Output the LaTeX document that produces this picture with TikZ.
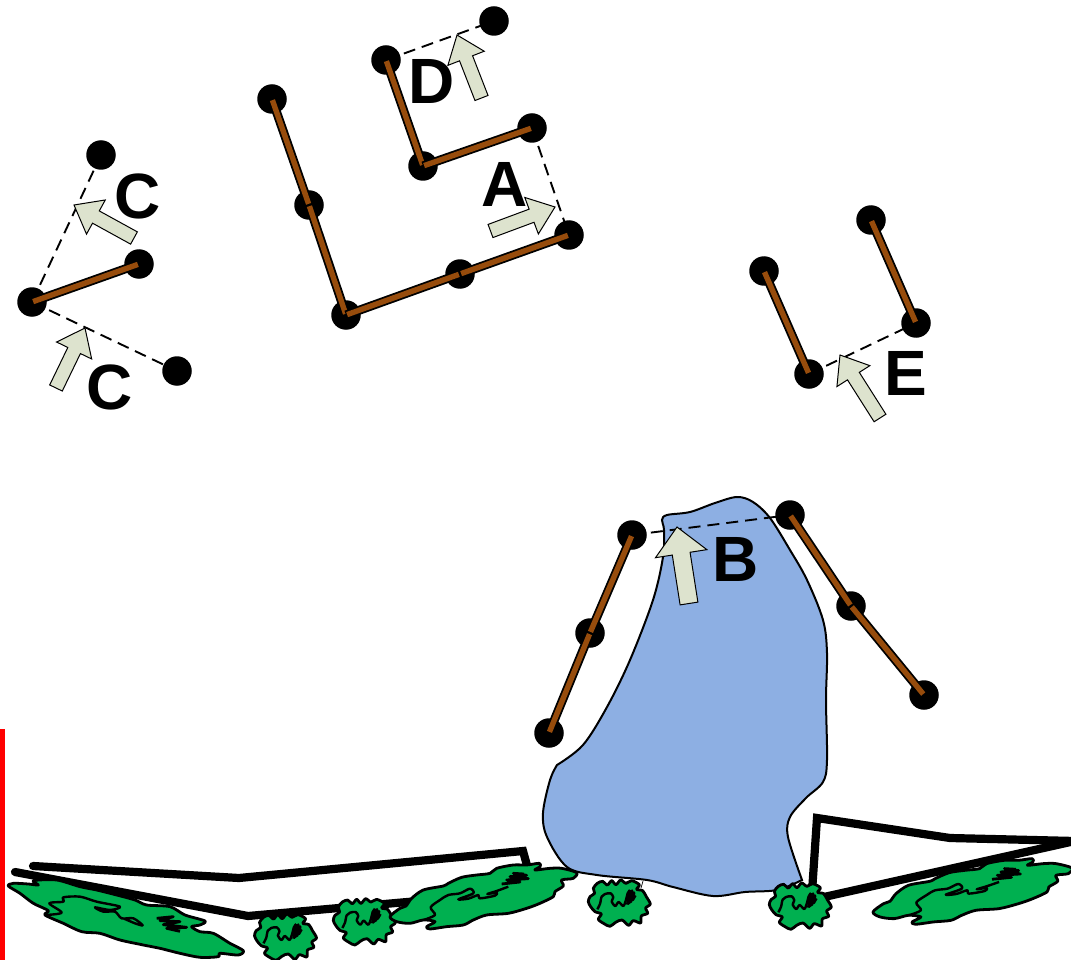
\documentclass[tikz,border=0pt]{standalone}
\usepackage{fontspec}
\setmainfont{Liberation Sans}
\usetikzlibrary{calc}
\definecolor{barbrown}{HTML}{974C0C}
\definecolor{bushgreen}{HTML}{00B050}
\definecolor{poolblue}{HTML}{8DAFE3}
\definecolor{arrowfill}{HTML}{DDE3CE}
\tikzset{
  dot/.style={circle,fill=black,inner sep=0pt,minimum size=29.5pt},
  barout/.style={line width=9pt,draw=black},
  barin/.style={line width=5.4pt,draw=barbrown,shorten >=1.2pt,shorten <=1.2pt},
  dashline/.style={line width=1.9pt,dash pattern=on 12pt off 7pt},
  heavy/.style={line width=8.2pt,line join=miter,line cap=round},
  lab/.style={font=\fontsize{64pt}{64pt}\selectfont\bfseries,inner sep=0pt},
  bushline/.style={line width=2.8pt,fill=bushgreen,draw=black,line join=round},
  squig/.style={line width=2.4pt,draw=black,line join=round},
  scrib/.style={line width=2.8pt,draw=black,line join=round},
  blockar/.style={fill=arrowfill,draw=black,line width=1pt,line join=miter}
}
\newcommand{\linkbar}[2]{\draw[barout] (#1.center) -- (#2.center);\draw[barin] (#1.center) -- (#2.center);}
\newcommand{\blockarrow}[6]{% name, tip, tail, head length, half head, half shaft
  \coordinate (#1tip) at (#2);
  \coordinate (#1tail) at (#3);
  \coordinate (#1h) at ($(#1tip)!#4pt!(#1tail)$);
  \draw[blockar] (#1tip) -- ($(#1h)!#5pt!90:(#1tip)$) -- ($(#1h)!#6pt!90:(#1tip)$) -- ($(#1tail)!#6pt!90:(#1tip)$) -- ($(#1tail)!#6pt!-90:(#1tip)$) -- ($(#1h)!#6pt!-90:(#1tip)$) -- ($(#1h)!#5pt!-90:(#1tip)$) -- cycle;
}
\newcommand{\smallbush}[2]{%
  \begin{scope}[shift={(380+#1,780+#2)},scale=0.3333]
  \draw[bushline] plot[smooth cycle,tension=.5] coordinates {
   (625,365)(630,350)(644,340)(640,325)(652,310)(668,304)(682,315)(695,302)(708,314)(722,300)(738,310)(755,302)(778,314)(770,328)(788,332)(799,350)(811,372)(797,384)(803,400)(784,408)(782,429)(760,422)(746,436)(726,420)(707,427)(690,439)(672,431)(655,418)(664,402)(645,395)(632,380)};
  \draw[squig] plot[smooth,tension=.5] coordinates {(652,388)(660,372)(665,350)(675,342)(692,340)(700,352)(695,365)(706,378)(716,366)(730,378)(738,360)(743,340)(750,330)};
  \draw[scrib] (742,374) -- (750,334) -- (746,370) -- (756,332) -- (752,366) -- (762,338) -- (758,360) -- (766,346);
  \end{scope}}
\newcommand{\largebushup}{%
  \draw[bushline] plot[smooth cycle,tension=.5] coordinates {
   (30,410)(60,385)(78,378)(95,355)(130,330)(190,318)(205,310)(245,292)(290,285)(330,280)(350,265)(400,255)(440,255)(478,250)(480,260)(465,270)(510,265)(545,265)(590,278)(580,295)(545,300)(550,318)(525,335)(520,350)(480,370)(440,385)(385,400)(320,405)(280,420)(250,435)(200,440)(150,447)(140,440)(165,425)(130,420)(90,430)(50,425)};
  \draw[squig] plot[smooth,tension=.5] coordinates {(130,420)(165,405)(152,382)(180,360)(205,345)(240,340)(270,326)(280,340)(235,358)(265,356)(295,345)(300,355)(345,347)(350,338)(322,342)(350,333)(385,320)};
  \draw[scrib] (365,312) -- (420,306) -- (380,300) -- (445,296) -- (390,290) -- (440,286) -- (400,280) -- (432,282);
}
\begin{document}
\begin{tikzpicture}[x=1pt,y=-1pt]
\useasboundingbox (0,0) rectangle (1071,960);
% red edge
\fill[red] (0,729) rectangle (5,960);
% dots
\foreach \n/\x/\y in {aa/272/99,ab/309/205,ac/346/315,ad/460/274,ae/569/235,
  da/386/60,db/423/166,dc/532/128,dd/494/21,
  ca/32/302,cb/139/264,cc/101/155,cd/177/371,
  ea/764/271,eb/809/374,ec/871/220,ed/916/323}
  \node[dot] (\n) at (\x,\y) {};
% dashed
\draw[dashline] (ca.center) -- (cc.center);
\draw[dashline] (ca.center) -- (cd.center);
\draw[dashline] (dc.center) -- (ae.center);
\draw[dashline] (da.center) -- (dd.center);
\draw[dashline] (eb.center) -- (ed.center);
% bars
\linkbar{aa}{ab}\linkbar{ab}{ac}\linkbar{ac}{ad}\linkbar{ad}{ae}
\linkbar{da}{db}\linkbar{db}{dc}
\linkbar{ca}{cb}
\linkbar{ea}{eb}\linkbar{ec}{ed}
% arrows upper
\blockarrow{ard}{457,35}{481.5,98}{25}{19.5}{7}
\blockarrow{ara}{555,207}{490.5,231}{25}{19.5}{7}
\blockarrow{arc}{74,205}{134,238}{25}{19.5}{7}
\blockarrow{arf}{85,328}{56,388}{25}{19.5}{7}
\blockarrow{are}{840,355}{880,418}{25}{19.5}{7}
% ground lines
\draw[heavy] (33,866) -- (239,878) -- (523,851) -- (528,869);
\draw[heavy] (15,872) -- (248,916) -- (430,900);
\draw[heavy] (812,892) -- (817,818) -- (950,838) -- (1075,841);
\draw[heavy] (815,899) -- (1075,841);
% pool
\draw[line width=2pt,fill=poolblue] plot[smooth,tension=.55] coordinates {(557,765)(583,745)(607,707)(630,660)(653,600)(663,557)(664,530)(662,520)(667,515)(690,512)(715,503)(737,497)(753,502)(770,518)(790,550)(807,580)(823,620)(827,653)(826,700)(827,760)(823,782)(806,798)(790,817)(788,837)(802,880)}
 -- plot[smooth,tension=.55] coordinates {(802,880)(777,890)(745,892)(713,896)(673,887)(647,880)(597,875)(567,867)(547,837)(543,813)(550,780)(557,765)} -- cycle;
\draw[line width=.7pt] (643,881) -- (641,888);
% B group
\foreach \n/\x/\y in {ba/549/733,bb/590/633,bc/632/535,bd/790/515,be/851/606,bf/924/695}
  \node[dot] (\n) at (\x,\y) {};
\draw[dashline] (bc.center) -- (bd.center);
\linkbar{ba}{bb}\linkbar{bb}{bc}\linkbar{bd}{be}\linkbar{be}{bf}
\blockarrow{arb}{677,527}{689,603.5}{27}{26}{9}
% labels
\node[lab] at (432,81) {D};
\node[lab] at (505,184) {A};
\node[lab] at (138,196) {C};
\node[lab] at (110,387) {C};
\node[lab] at (906,373) {E};
\node[lab] at (736,559) {B};
% large bush left
\begin{scope}[shift={(0,820)},scale=0.3333]
\draw[bushline] plot[smooth cycle,tension=.5] coordinates {
 (25,198)(40,190)(85,192)(115,195)(100,182)(170,180)(240,200)(290,210)(350,225)(405,240)(440,255)(510,260)(555,285)(615,303)(600,315)(575,320)(600,335)(640,340)(690,370)(730,392)(715,405)(660,400)(655,410)(600,412)(540,400)(480,385)(430,375)(360,360)(300,340)(245,335)(190,310)(135,285)(145,272)(100,250)(60,220)};
\draw[squig] plot[smooth,tension=.5] coordinates {(135,285)(185,278)(148,250)(190,245)(190,232)(240,230)(290,245)(360,260)(330,270)(285,262)(310,275)(345,275)(365,295)(400,295)(428,316)(405,310)(370,295)};
\draw[scrib] (470,295) -- (520,290) -- (480,302) -- (540,305) -- (490,314) -- (560,322) -- (500,325) -- (540,334);
\end{scope}
% small bushes
\smallbush{-333.8}{34}
\smallbush{-255}{18.7}
\begin{scope}[shift={(380,780)},scale=0.3333]\largebushup\end{scope}
\smallbush{0}{0}
\smallbush{181}{3}
\begin{scope}[shift={(862.3,775.3)},xscale=0.3553,yscale=0.3333]\largebushup\end{scope}
\end{tikzpicture}
\end{document}
